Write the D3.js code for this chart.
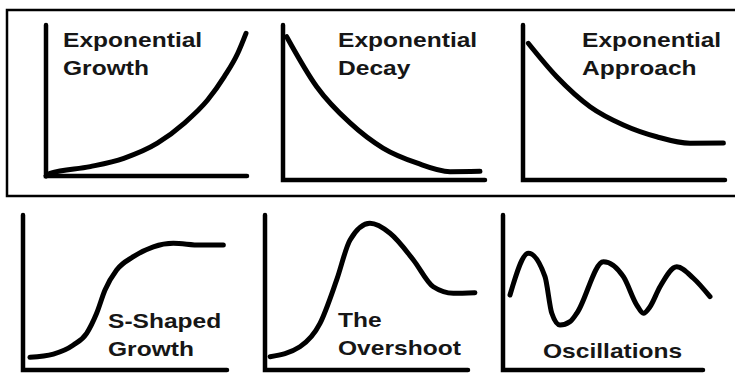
<!DOCTYPE html>
<html>
<head>
<meta charset="utf-8">
<script src="https://cdn.jsdelivr.net/npm/d3@7"></script>
<style>
  body { margin: 0; background: #fff; }
  text { font-family: "Liberation Sans", Arial, sans-serif; font-weight: bold; fill: #161616; }
</style>
</head>
<body>
<svg width="735" height="382"></svg>
<script>
// behaviour patterns, each curve (x, y in 0..100 of its own axes)
var expGrowth   = [[0, 0], [2, 1.8], [22, 6.2], [38.7, 11.7], [55.4, 21.7], [68.7, 34.9], [80.4, 50.3],
                   [88.7, 65.8], [95.4, 81.3], [99.5, 94.5]];
var expDecay    = [[1.8, 92.5], [16.7, 60.2], [33.2, 36.8], [49.5, 20.6], [66.2, 11], [82.7, 5.4], [97.5, 5.6]];
var expApproach = [[2.6, 88.2], [16.7, 66.6], [33.2, 47.3], [49.7, 35.5], [66.2, 27.9], [82.7, 23.7], [99.2, 23.9]];
var sShaped     = [[3.4, 8.2], [14.9, 10.3], [24.7, 16.1], [31.2, 23.7], [36.1, 36.6], [40.2, 51.6], [45.9, 64.5],
                   [54.1, 73.1], [63.9, 79.5], [73.7, 81.7], [86.8, 80.6], [98.2, 80.6]];
var overshoot   = [[2.5, 8.6], [17.2, 15], [27.1, 30.1], [35.3, 58.1], [41.9, 83.9], [51.7, 94.6], [61.6, 88.2],
                   [73.1, 71], [82.9, 53.7], [92.8, 49.5], [103.4, 49.9]];
var oscillation = [[3.5, 48.4], [12.7, 75.3], [21, 60.2], [24.4, 36.6], [28.5, 29], [33.5, 31.2], [36.9, 36.6],
                   [50.2, 69.9], [60.2, 60.2], [66.9, 41.9], [70.2, 36.6], [73.5, 40.8], [78.5, 53.7],
                   [86.9, 66.6], [95.2, 59.2], [103.5, 47.3]];

// labels (two lines where the sketch has two)
var labelLines = [
    ["Exponential", "Growth"],
    ["Exponential", "Decay"],
    ["Exponential", "Approach"],
    ["S-Shaped", "Growth"],
    ["The", "Overshoot"],
    ["Oscillations"]
];

//panel layout: axis origin, axis lengths, where the label sits
var panels = [
    {data: expGrowth,   ox: 46,  oy: 176, w: 201, h: 151, tx: 63,  ty: [47, 75]},
    {data: expDecay,    ox: 283, oy: 180, w: 202, h: 155, tx: 338, ty: [47, 75]},
    {data: expApproach, ox: 523, oy: 180, w: 202, h: 155, tx: 582, ty: [47, 75]},
    {data: sShaped,     ox: 23,  oy: 370, w: 204, h: 155, tx: 108, ty: [328, 356]},
    {data: overshoot,   ox: 265, oy: 370, w: 203, h: 155, tx: 338, ty: [327, 355]},
    {data: oscillation, ox: 503, oy: 370, w: 200, h: 155, tx: 543, ty: [358]}
];

var svg = d3.select("svg");

//frame round the top row
svg.append("rect")
    .attr("x", 7).attr("y", 10)
    .attr("width", 745).attr("height", 186)
    .attr("fill", "none")
    .attr("stroke", "#000")
    .attr("stroke-width", 2.5);

panels.forEach(function (p, i) {
    var x = d3.scaleLinear().domain([0, 100]).range([p.ox, p.ox + p.w]);
    var y = d3.scaleLinear().domain([0, 100]).range([p.oy, p.oy - p.h]);
    var g = svg.append("g");

    //the two axes
    g.append("path")
        .attr("d", "M" + x(0) + "," + y(100) + "V" + y(0) + "H" + x(100))
        .attr("fill", "none")
        .attr("stroke", "#000")
        .attr("stroke-width", 4.5)
        .attr("stroke-linecap", "round")
        .attr("stroke-linejoin", "miter");

    var line = d3.line()
        .x(function (d) { return x(d[0]); })
        .y(function (d) { return y(d[1]); })
        .curve(d3.curveMonotoneX);

    g.append("path")
        .datum(p.data)
        .attr("d", line)
        .attr("fill", "none")
        .attr("stroke", "#000")
        .attr("stroke-width", 5)
        .attr("stroke-linecap", "round");

    labelLines[i].forEach(function (t, k) {
        g.append("text")
            .attr("transform", "translate(" + p.tx + "," + p.ty[k] + ") scale(1.26,1)")
            .attr("font-size", 19.5)
            .text(t);
    });
});
</script>
</body>
</html>
